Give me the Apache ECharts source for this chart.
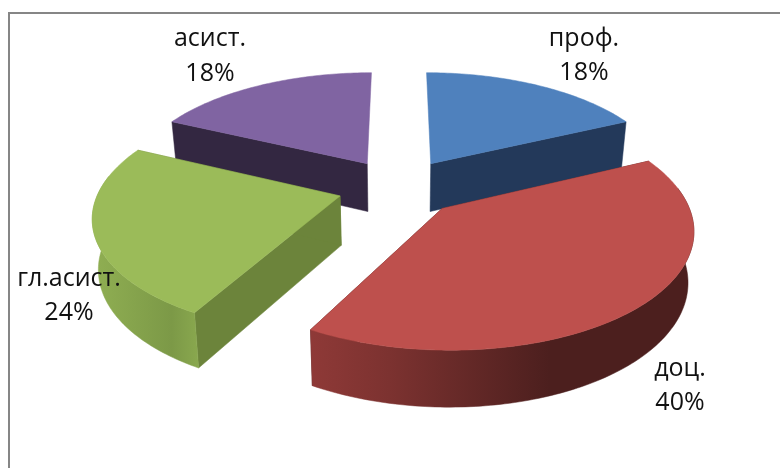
<!DOCTYPE html>
<html>
<head>
<meta charset="utf-8">
<style>html,body{margin:0;padding:0;background:#fff}#c{width:780px;height:468px}</style>
<script src="https://cdn.jsdelivr.net/npm/echarts@6/dist/echarts.min.js"></script>
</head>
<body>
<div id="c"></div>
<script>
var categories = ['проф.', 'доц.', 'гл.асист.', 'асист.'];
var values = [18, 40, 24, 18];

// Styling and layout of the drawing, kept apart from the data
var topColors = ['#4f81bd', '#be504d', '#9bbb59', '#8064a2'];
var cutColors = ['#23395a', '#4c1f1e', '#6c843b', '#332741'];
var wallStops = [
  [[0, '#23395a'], [1, '#23395a']],
  [[0, '#8e3937'], [0.2, '#7c3230'], [0.62, '#4c1f1e'], [1, '#4c1f1e']],
  [[0, '#8fae52'], [0.7, '#7c9947'], [1, '#8cab50']],
  [[0, '#332741'], [1, '#332741']]
];
var wallRange = [[430, 630], [313, 695], [96, 204], [170, 372]];
var labelPos = [[584, 38, 72], [680, 368, 402], [69, 278, 312], [210, 38, 73]];
var drawOrder = [3, 0, 2, 1];
var view = { cx: 399, cy: 187, R: 240, A: 112, p: 0.157, H: 49, shrink: 0.02, explode: 0.255 };

var total = values.reduce(function (a, b) { return a + b; }, 0);
var starts = [];
values.reduce(function (acc, v, i) { starts[i] = acc; return acc + v; }, 0);

function project(x, y, d) {
  var s = 1 / (1 - view.p * y);
  var m = 1 - view.shrink * d;
  return [view.cx + x * view.R * s * m, view.cy + y * view.A * s * m + d * view.H * s];
}
function polar(deg) {
  var r = deg * Math.PI / 180;
  return [Math.sin(r), -Math.cos(r)];
}
function rim(a0, a1, off, d) {
  var pts = [];
  var n = Math.max(2, Math.ceil(Math.abs(a1 - a0)));
  for (var i = 0; i <= n; i++) {
    var u = polar(a0 + (a1 - a0) * i / n);
    pts.push(project(u[0] + off[0], u[1] + off[1], d));
  }
  return pts;
}
function poly(points, fill, z) {
  return { type: 'polygon', z2: z, silent: true,
    shape: { points: points },
    style: { fill: fill, stroke: fill, lineWidth: 0.5 } };
}

var chart = echarts.init(document.getElementById('c'), null, { renderer: 'canvas' });

chart.setOption({
  animation: false,
  backgroundColor: '#fff',
  graphic: [
    { type: 'line', silent: true, shape: { x1: 9, y1: 13, x2: 780, y2: 13 }, style: { stroke: '#868686', lineWidth: 2 } },
    { type: 'line', silent: true, shape: { x1: 9, y1: 12, x2: 9, y2: 468 }, style: { stroke: '#868686', lineWidth: 2 } }
  ],
  series: [{
    type: 'custom',
    coordinateSystem: 'none',
    silent: true,
    data: drawOrder.map(function (i) { return { name: categories[i], value: [values[i], starts[i], i] }; }),
    renderItem: function (params, api) {
      var v = api.value(0), st = api.value(1), i = api.value(2);
      var a0 = st / total * 360, a1 = (st + v) / total * 360;
      var dir = polar((a0 + a1) / 2);
      var off = [dir[0] * view.explode, dir[1] * view.explode];
      var kids = [];
      var apexT = project(off[0], off[1], 0), apexB = project(off[0], off[1], 1);
      [a0, a1].forEach(function (a) {
        var u = polar(a);
        if (Math.abs(u[0]) < 0.02) { return; } // a cut facing straight back is hidden
        kids.push(poly([apexT, project(u[0] + off[0], u[1] + off[1], 0),
                        project(u[0] + off[0], u[1] + off[1], 1), apexB], cutColors[i], 1));
      });
      var wa0 = Math.max(a0, 80), wa1 = Math.min(a1, 280);
      if (wa1 > wa0) {
        var t = rim(wa0, wa1, off, 0), b = rim(wa0, wa1, off, 1).reverse();
        kids.push(poly(t.concat(b), new echarts.graphic.LinearGradient(
          wallRange[i][0], 0, wallRange[i][1], 0,
          wallStops[i].map(function (s) { return { offset: s[0], color: s[1] }; }), true), 2));
      }
      kids.push(poly([apexT].concat(rim(a0, a1, off, 0)), topColors[i], 3));
      return { type: 'group', children: kids };
    },
    z: 2
  }, {
    type: 'custom',
    coordinateSystem: 'none',
    silent: true,
    data: categories.map(function (c, i) { return { name: c, value: [values[i], i] }; }),
    renderItem: function (params, api) {
      var v = api.value(0), i = api.value(1), lp = labelPos[i];
      var font = { fontFamily: '"Open Sans"', fontSize: 25, fill: '#111', align: 'center', verticalAlign: 'middle' };
      return { type: 'group', children: [
        { type: 'text', style: Object.assign({ text: categories[i], x: lp[0], y: lp[1] + 1 }, font) },
        { type: 'text', style: Object.assign({ text: Math.round(v / total * 100) + '%', x: lp[0], y: lp[2] + 1 }, font) }
      ] };
    },
    z: 5
  }]
});
</script>
</body>
</html>
